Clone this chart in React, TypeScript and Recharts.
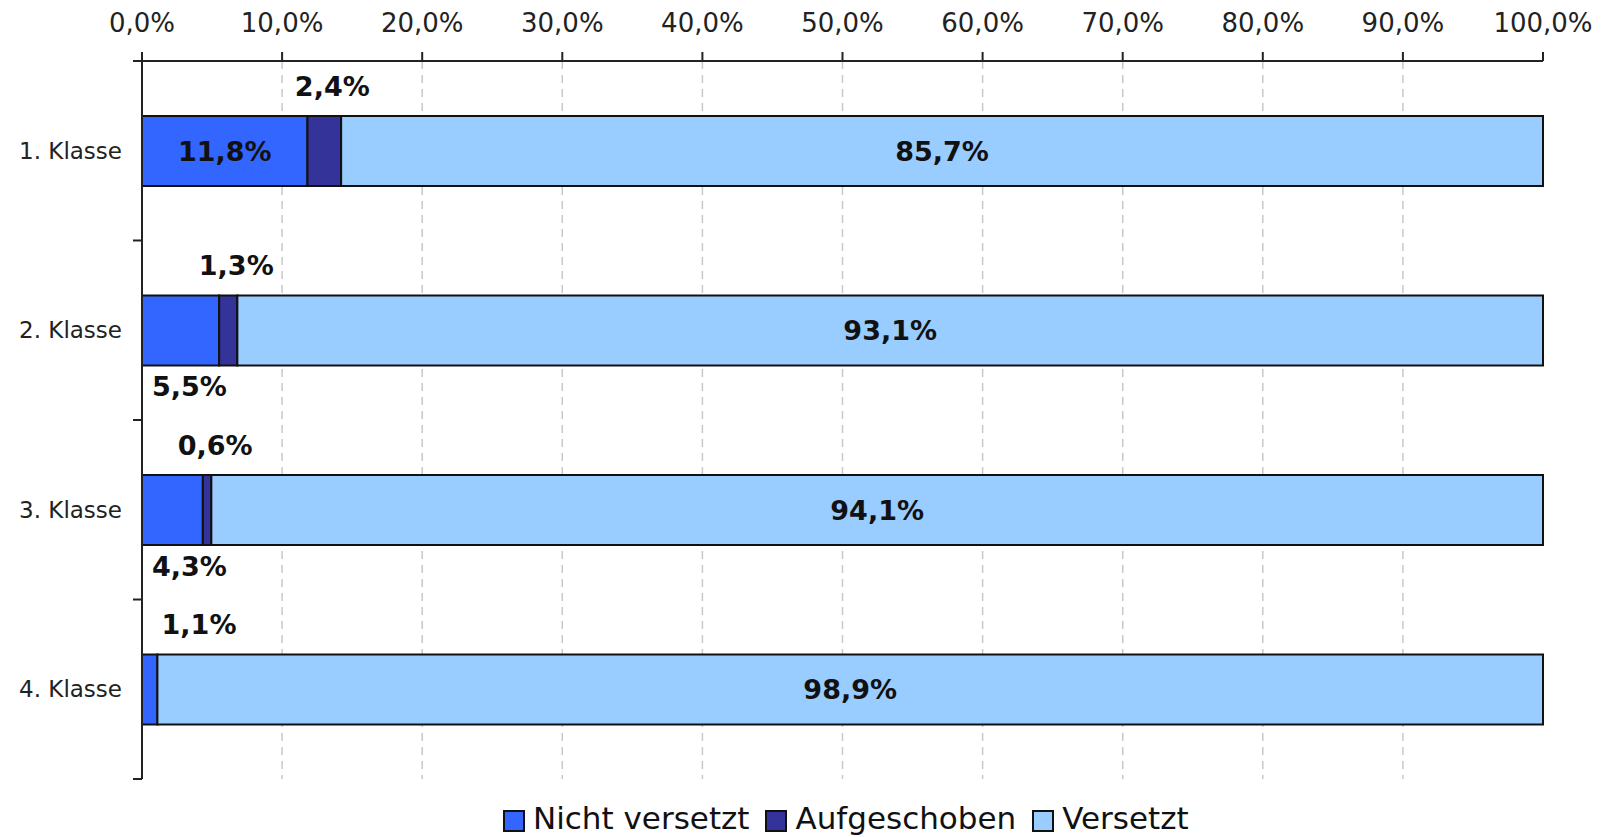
import { BarChart, Bar, XAxis, YAxis, CartesianGrid } from "recharts";

const categories = ["1. Klasse", "2. Klasse", "3. Klasse", "4. Klasse"];
const nichtVersetzt = [11.8, 5.5, 4.3, 1.1];
const aufgeschoben = [2.4, 1.3, 0.6, 0];
const versetzt = [85.7, 93.1, 94.1, 98.9];
const xTicks = [0, 10, 20, 30, 40, 50, 60, 70, 80, 90, 100];

const series = [
  { key: "nicht", name: "Nicht versetzt", color: "#3366FF", values: nichtVersetzt },
  { key: "aufg", name: "Aufgeschoben", color: "#333399", values: aufgeschoben },
  { key: "vers", name: "Versetzt", color: "#99CCFF", values: versetzt },
];

const data = categories.map((name, i) => ({
  name,
  nicht: nichtVersetzt[i],
  aufg: aufgeschoben[i],
  vers: versetzt[i],
}));

const W = 1602;
const H = 837;
const AXIS_W = 142;
const TOP = 61;
const MARGIN = { top: 0, right: 59, bottom: 58, left: 0 };
const BAND = (H - TOP - MARGIN.bottom) / categories.length;
const INK = "#222";

const fmt = (v: number) => v.toFixed(1).replace(".", ",") + "%";

const labelText = {
  fontFamily: "'DejaVu Sans', Verdana, sans-serif",
  fontWeight: 700,
  fontSize: 27,
  fill: "#111",
};

// small segments get their label above (Aufgeschoben) or below (Nicht versetzt) the bar
function makeLabel(key: string, values: number[]) {
  return (props: any) => {
    const vb = props.viewBox || {};
    const x = Number(vb.x ?? props.x);
    const y = Number(vb.y ?? props.y);
    const w = Number(vb.width ?? props.width);
    const h = Number(vb.height ?? props.height);
    const i = props.index;
    const v = values[i];
    if (!v) return null;
    const cx = x + w / 2;
    const cy = y + h / 2;
    const text = fmt(v);
    if (key === "vers" || w > 110) {
      return (
        <text x={cx} y={cy} textAnchor="middle" dominantBaseline="central" {...labelText}>
          {text}
        </text>
      );
    }
    if (key === "nicht" && aufgeschoben[i] > 0) {
      return (
        <text x={AXIS_W + 10} y={y + h + 21} textAnchor="start" dominantBaseline="central" {...labelText}>
          {text}
        </text>
      );
    }
    return (
      <text
        x={Math.max(cx + 8, AXIS_W + 57)}
        y={y - 30}
        textAnchor="middle"
        dominantBaseline="central"
        {...labelText}
      >
        {text}
      </text>
    );
  };
}

function CategoryTick(props: any) {
  const { x, y, payload, index } = props;
  const axisX = AXIS_W;
  return (
    <g>
      <text
        x={x}
        y={y}
        textAnchor="end"
        dominantBaseline="central"
        fontFamily="'DejaVu Sans', Verdana, sans-serif"
        fontSize={23}
        fill={INK}
      >
        {payload.value}
      </text>
      <line x1={axisX - 9} x2={axisX} y1={y - BAND / 2} y2={y - BAND / 2} stroke={INK} strokeWidth={2} />
      {index === categories.length - 1 && (
        <line x1={axisX - 9} x2={axisX} y1={y + BAND / 2} y2={y + BAND / 2} stroke={INK} strokeWidth={2} />
      )}
    </g>
  );
}

function LegendBox() {
  return (
    <div
      style={{
        position: "absolute",
        left: 503,
        top: 803,
        height: 31,
        display: "flex",
        alignItems: "center",
        fontFamily: "'DejaVu Sans', Verdana, sans-serif",
        fontSize: 31,
        color: "#111",
        lineHeight: "31px",
        whiteSpace: "nowrap",
      }}
    >
      {series.map((s) => (
        <div key={s.key} style={{ display: "flex", alignItems: "center", marginRight: 16 }}>
          <span
            style={{
              display: "inline-block",
              boxSizing: "border-box",
              position: "relative",
              top: 2,
              width: 22,
              height: 22,
              background: s.color,
              border: "2px solid #111",
              marginRight: 8,
            }}
          />
          <span>{s.name}</span>
        </div>
      ))}
    </div>
  );
}

export default function App() {
  return (
    <div style={{ position: "fixed", left: 0, top: 0, width: W, height: H, background: "#fff" }}>
      <BarChart
        width={W}
        height={H}
        data={data}
        layout="vertical"
        stackOffset="expand"
        barSize={70}
        margin={MARGIN}
      >
        <CartesianGrid
          horizontal={false}
          verticalValues={xTicks.filter((t) => t > 0 && t < 100).map((t) => t / 100)}
          stroke="#c8c8c8"
          strokeWidth={1.5}
          strokeDasharray="8 6"
        />
        <XAxis
          type="number"
          orientation="top"
          domain={[0, 1]}
          ticks={xTicks.map((t) => t / 100)}
          tickFormatter={(v: number) => fmt(v * 100)}
          height={TOP}
          tickSize={9}
          tickMargin={20}
          axisLine={{ stroke: INK, strokeWidth: 2 }}
          tickLine={{ stroke: INK, strokeWidth: 2 }}
          tick={{ fill: INK, fontSize: 26, fontFamily: "'DejaVu Sans', Verdana, sans-serif" }}
          interval={0}
        />
        <YAxis
          type="category"
          dataKey="name"
          width={AXIS_W}
          tickSize={9}
          tickMargin={11}
          tickLine={false}
          axisLine={{ stroke: INK, strokeWidth: 2 }}
          tick={<CategoryTick />}
          interval={0}
        />
        {series.map((s) => (
          <Bar
            key={s.key}
            dataKey={s.key}
            name={s.name}
            stackId="a"
            fill={s.color}
            stroke="#111"
            strokeWidth={2}
            isAnimationActive={false}
            label={makeLabel(s.key, s.values)}
          />
        ))}
      </BarChart>
      <LegendBox />
    </div>
  );
}
